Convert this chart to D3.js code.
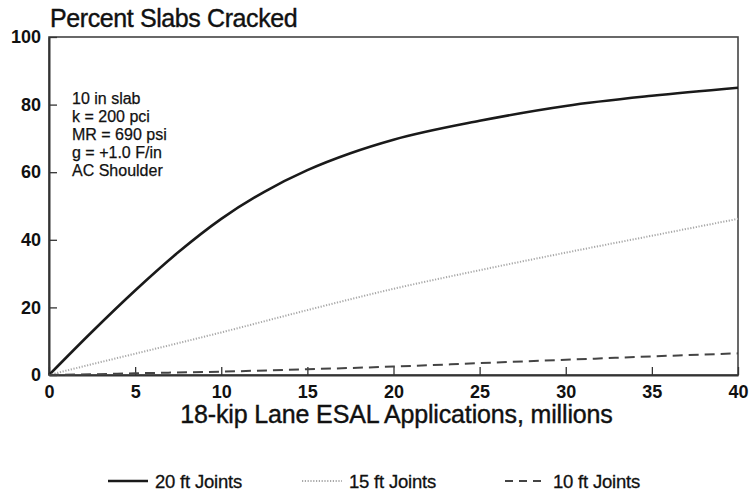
<!DOCTYPE html>
<html lang="en">
<head>
<meta charset="UTF-8">
<title>Percent Slabs Cracked</title>
<script src="https://cdnjs.cloudflare.com/ajax/libs/d3/7.8.5/d3.min.js"></script>
<style>
    body { margin: 0; background: #fff; }
    svg { display: block; font-family: 'Liberation Sans', Arial, sans-serif; }
    .tick-label { font-size: 18px; font-weight: bold; fill: #111; }
    .note { font-size: 16px; fill: #111; stroke: #111; stroke-width: 0.25px; }
    .legend text { font-size: 18.5px; fill: #111; letter-spacing: -0.2px; stroke: #111; stroke-width: 0.3px; }
    .heavy { stroke: #111; stroke-width: 0.4px; }
</style>
</head>
<body>
<svg id="chart" width="750" height="495"></svg>
<script>
"use strict";

// values
const esal = [0, 2.5, 5, 7.5, 10, 12.5, 15, 17.5, 20, 25, 30, 35, 40];
const joints20 = [0, 12.8, 25, 36.3, 46.2, 54.2, 60.6, 65.6, 69.6, 75.2, 79.6, 82.6, 85];
const esalB = [0, 2.5, 5, 10, 15, 20, 25, 30, 35, 40];
const joints15 = [0, 3.2, 6.3, 12.6, 19.2, 25.5, 31, 36.2, 41.2, 46.2];
const joints10 = [0, 0.2, 0.5, 1.0, 1.7, 2.5, 3.5, 4.5, 5.5, 6.4];

const xTicks = [0, 5, 10, 15, 20, 25, 30, 35, 40];
const yTicks = [0, 20, 40, 60, 80, 100];
const notes = ["10 in slab", "k = 200 pci", "MR = 690 psi", "g = +1.0 F/in", "AC Shoulder"];

const series = [
    { name: "20 ft Joints", xs: esal, ys: joints20, color: "#1a1a1a", width: 2.6, dash: null },
    { name: "15 ft Joints", xs: esalB, ys: joints15, color: "#a8a8a8", width: 2, dash: "1.2,1.6" },
    { name: "10 ft Joints", xs: esalB, ys: joints10, color: "#444", width: 2, dash: "10,6" }
];

const margin = { left: 49, top: 37, right: 12, bottom: 120 };
const W = 750, H = 495;
const plotW = W - margin.left - margin.right;
const plotH = H - margin.top - margin.bottom;

const svg = d3.select("#chart");
const x = d3.scaleLinear().domain([0, 40]).range([margin.left, margin.left + plotW]);
const y = d3.scaleLinear().domain([0, 100]).range([margin.top + plotH, margin.top]);

// title
svg.append("text")
    .attr("class", "heavy")
    .attr("x", 50).attr("y", 27)
    .style("font-size", "25px")
    .style("letter-spacing", "-0.4px")
    .attr("fill", "#111")
    .text("Percent Slabs Cracked");

// frame
svg.append("rect")
    .attr("x", margin.left).attr("y", margin.top)
    .attr("width", plotW).attr("height", plotH)
    .attr("fill", "none").attr("stroke", "#444").attr("stroke-width", 1.6);

// axes, ticks pointing inward
const xAxis = svg.append("g")
    .attr("transform", "translate(0," + (margin.top + plotH) + ")")
    .call(d3.axisBottom(x).tickValues(xTicks).tickSizeInner(-8).tickSizeOuter(0).tickPadding(10));
const yAxis = svg.append("g")
    .attr("transform", "translate(" + margin.left + ",0)")
    .call(d3.axisLeft(y).tickValues(yTicks).tickSizeInner(-8).tickSizeOuter(0).tickPadding(8));

[xAxis, yAxis].forEach(a => {
    a.select(".domain").attr("stroke", "#333").attr("stroke-width", 2);
    a.selectAll(".tick line").attr("stroke", "#333").attr("stroke-width", 1.3);
    a.selectAll(".tick text").attr("class", "tick-label").attr("font-family", null).attr("font-size", null);
});
xAxis.selectAll(".tick text").attr("dy", "0.71em");

// x axis title
svg.append("text")
    .attr("class", "heavy")
    .attr("x", (x(0) + x(40)) / 2 + 3).attr("y", 423)
    .attr("text-anchor", "middle")
    .style("font-size", "25px")
    .style("letter-spacing", "-0.15px")
    .attr("fill", "#111")
    .text("18-kip Lane ESAL Applications, millions");

// note block
svg.append("g").selectAll("text")
    .data(notes).join("text")
    .attr("class", "note")
    .attr("x", 72)
    .attr("y", (d, i) => 104 + i * 18)
    .text(d => d);

// curves
const line = d3.line().curve(d3.curveMonotoneX);
svg.append("g").selectAll("path")
    .data(series).join("path")
    .attr("d", s => line(s.xs.map((v, i) => [x(v), y(s.ys[i])])))
    .attr("fill", "none")
    .attr("stroke", s => s.color)
    .attr("stroke-width", s => s.width)
    .attr("stroke-dasharray", s => s.dash);

// legend
const legendX = [108, 302, 505];
const legend = svg.append("g").attr("class", "legend")
    .selectAll("g").data(series).join("g")
    .attr("transform", (s, i) => "translate(" + legendX[i] + ",481)");
legend.append("line")
    .attr("x1", 0).attr("x2", (s, i) => i === 2 ? 36 : 40)
    .attr("y1", 0).attr("y2", 0)
    .attr("stroke", s => s.color)
    .attr("stroke-width", s => s.width)
    .attr("stroke-dasharray", (s, i) => i === 2 ? "8,6" : s.dash);
legend.append("text")
    .attr("x", (s, i) => i === 2 ? 48 : 47)
    .attr("y", 6.5)
    .text(s => s.name);
</script>
</body>
</html>
